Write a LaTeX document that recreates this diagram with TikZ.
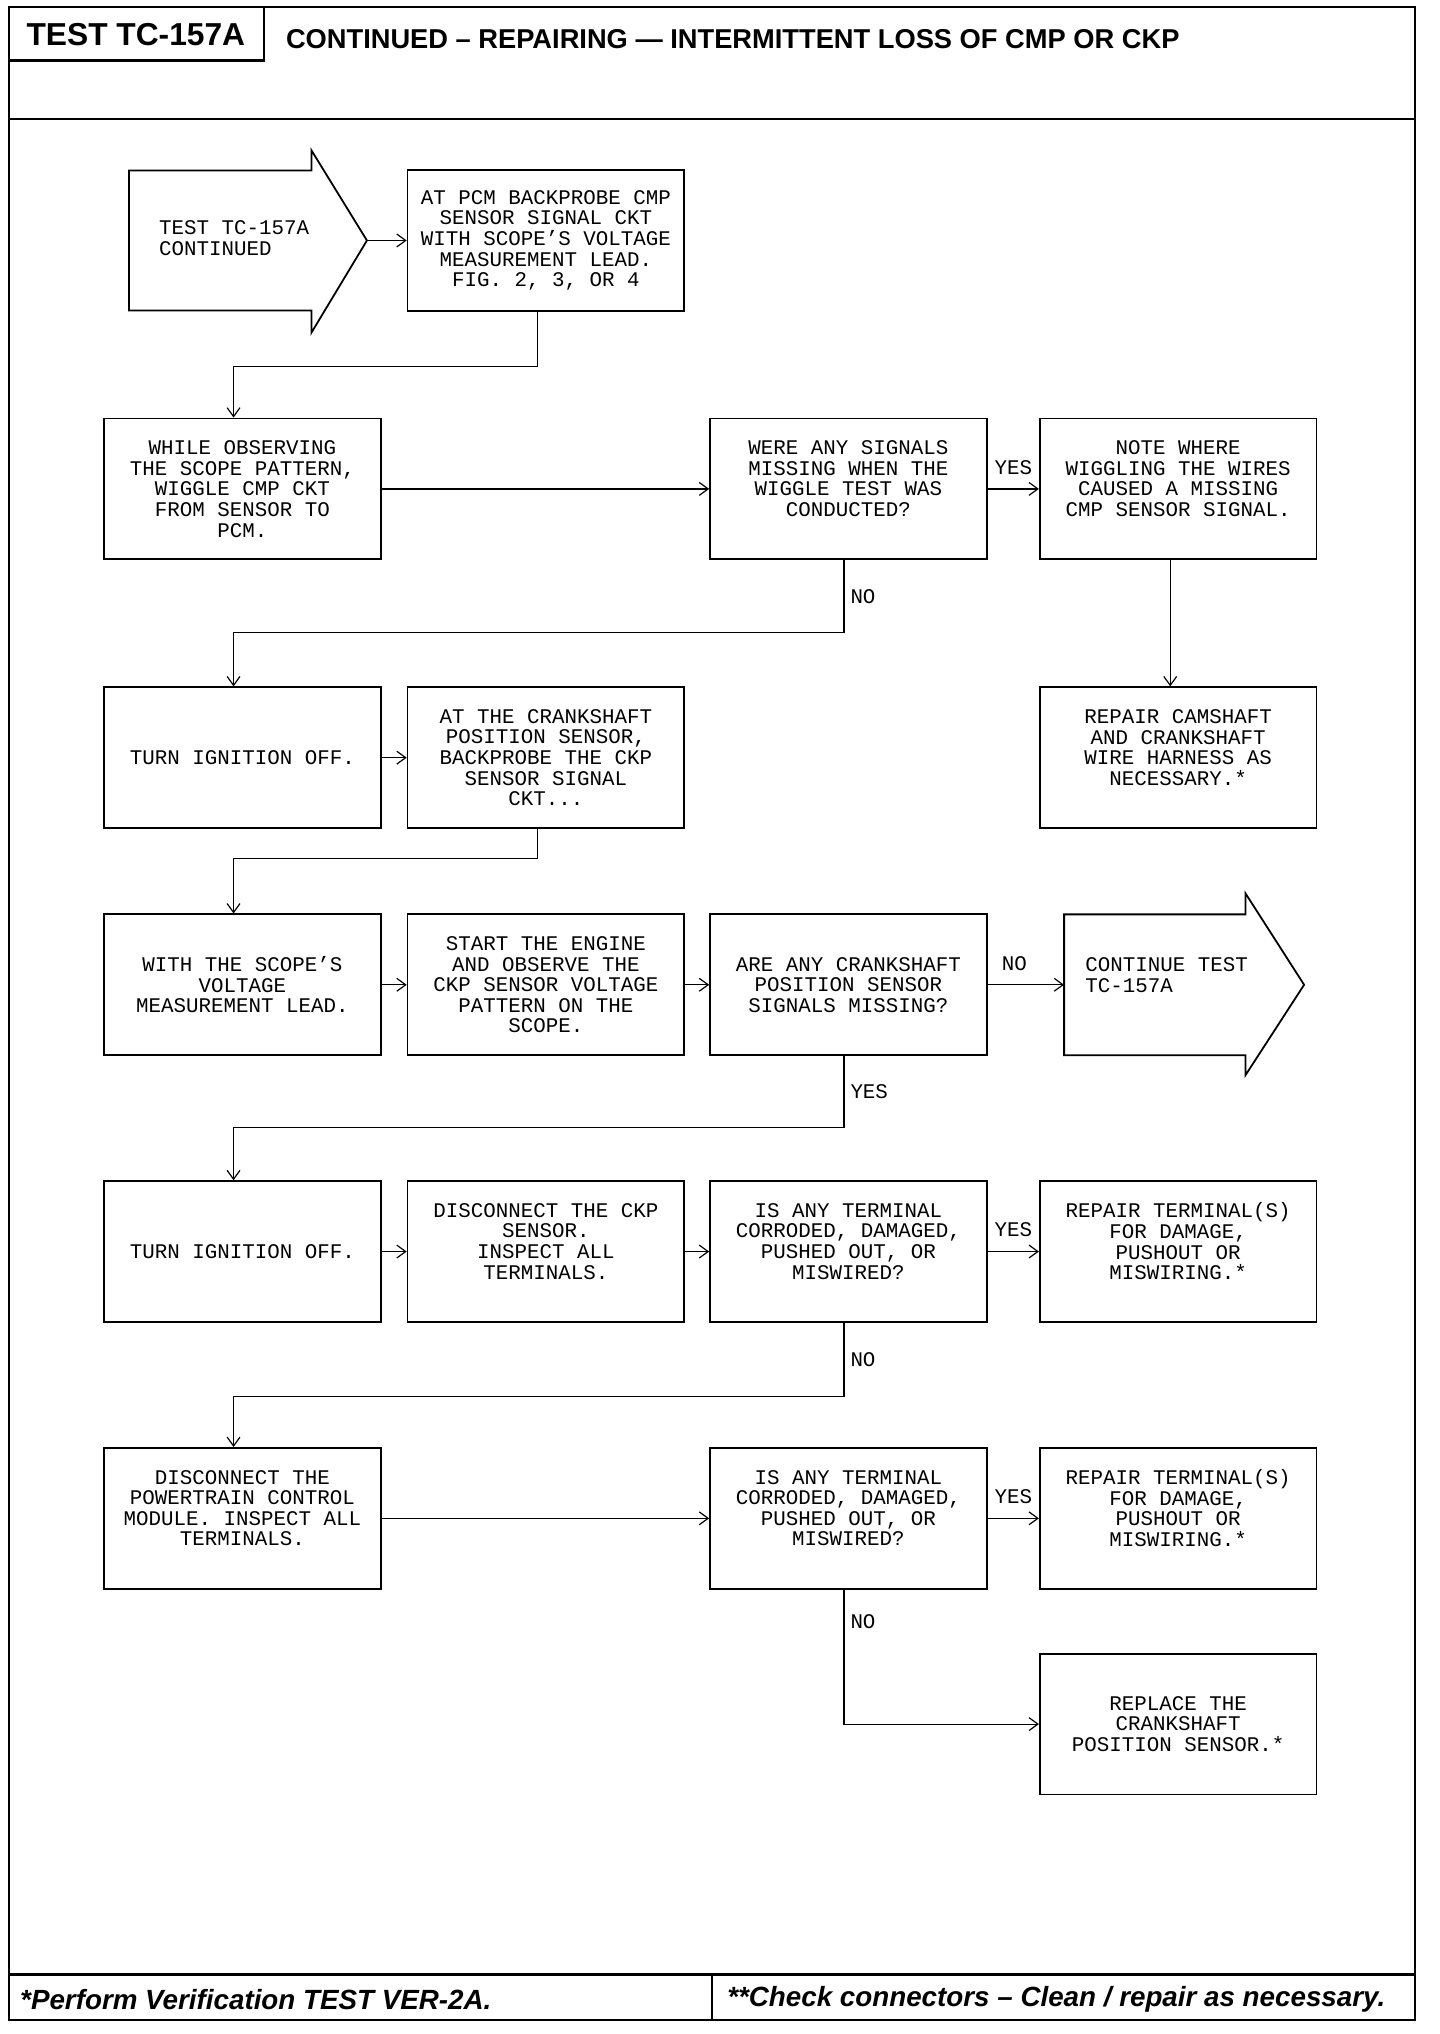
\documentclass[tikz,border=0pt]{standalone}
\usepackage{fontspec}
\setmainfont{Liberation Sans}
\setmonofont{Liberation Mono}
\usetikzlibrary{arrows.meta}
\tikzstyle{box} = [draw, line width=0.9pt, minimum width=139.5pt, minimum height=71pt, inner sep=0pt, align=center, font=\ttfamily\fontsize{10.5}{10.4}\selectfont]
\tikzstyle{txt} = [inner sep=0pt, align=left, font=\ttfamily\fontsize{10.5}{10.4}\selectfont]
\tikzstyle{tag} = [inner sep=2pt, font=\ttfamily\fontsize{10.5}{10.4}\selectfont]
\tikzstyle{line} = [->, line width=0.6pt]
\tikzstyle{rule} = [line width=1.2pt]

\begin{document}
\begin{tikzpicture}[x=0.5pt, y=-0.5pt, >={Straight Barb[length=4.5pt,width=6.5pt]}]
\useasboundingbox (0,0) rectangle (1452,2051);
% frame, header and footer
\draw[rule] (9,7) rectangle (1427,2037);
\draw[rule] (9,7) rectangle (266,61);
\draw[rule] (9,120) -- (1427,120);
\draw[rule] (9,1991) -- (1427,1991);
\draw[rule] (718,1991) -- (718,2037);
\node (title) at (137,35) {\fontsize{16}{16}\selectfont\bfseries TEST TC-157A};
\node[anchor=west, inner sep=0pt] (head) at (288,39) {\fontsize{13.75}{14}\selectfont\bfseries CONTINUED – REPAIRING — INTERMITTENT LOSS OF CMP OR CKP};
\node[anchor=west, inner sep=0pt] (note1) at (20,2016) {\fontsize{14}{14}\selectfont\bfseries\itshape *Perform Verification TEST VER-2A.};
\node[anchor=west, inner sep=0pt] (note2) at (733,2016) {\fontsize{14}{14}\selectfont\bfseries\itshape **Check connectors – Clean / repair as necessary.};

% start and end arrows
\coordinate (tip) at (370,242.5);
\draw[line width=0.9pt] (130,172) -- (314,172) -- (314,151.5) -- (tip) -- (314,335.5) -- (314,313) -- (130,313) -- cycle;
\node[txt, anchor=west] (start) at (160,240) {TEST TC-157A\\CONTINUED};
\coordinate (cin) at (1073,993);
\draw[line width=0.9pt] (cin) |- (1256,922) -- (1256,901) -- (1315,993) -- (1256,1084) -- (1256,1064) -| (cin);
\node[txt, anchor=west] (cont) at (1094,983) {CONTINUE TEST\\TC-157A};

% steps
\foreach \n/\x/\y/\t in {
    a2/550.5/242.5/{AT PCM BACKPROBE CMP\\SENSOR SIGNAL CKT\\WITH SCOPE’S VOLTAGE\\MEASUREMENT LEAD.\\FIG. 2, 3, OR 4},
    b1/244.5/493/{WHILE OBSERVING\\THE SCOPE PATTERN,\\WIGGLE CMP CKT\\FROM SENSOR TO\\PCM.},
    b3/855.5/493/{WERE ANY SIGNALS\\MISSING WHEN THE\\WIGGLE TEST WAS\\CONDUCTED?\\ \mbox{}},
    b4/1188/493/{NOTE WHERE\\WIGGLING THE WIRES\\CAUSED A MISSING\\CMP SENSOR SIGNAL.\\ \mbox{}},
    c1/244.5/764/{TURN IGNITION OFF.},
    c2/550.5/764/{AT THE CRANKSHAFT\\POSITION SENSOR,\\BACKPROBE THE CKP\\SENSOR SIGNAL\\CKT...},
    c4/1188/764/{REPAIR CAMSHAFT\\AND CRANKSHAFT\\WIRE HARNESS AS\\NECESSARY.*\\ \mbox{}},
    d1/244.5/993/{WITH THE SCOPE’S\\VOLTAGE\\MEASUREMENT LEAD.},
    d2/550.5/993/{START THE ENGINE\\AND OBSERVE THE\\CKP SENSOR VOLTAGE\\PATTERN ON THE\\SCOPE.},
    d3/855.5/993/{ARE ANY CRANKSHAFT\\POSITION SENSOR\\SIGNALS MISSING?},
    e1/244.5/1262/{TURN IGNITION OFF.},
    e2/550.5/1262/{DISCONNECT THE CKP\\SENSOR.\\INSPECT ALL\\TERMINALS.\\ \mbox{}},
    e3/855.5/1262/{IS ANY TERMINAL\\CORRODED, DAMAGED,\\PUSHED OUT, OR\\MISWIRED?\\ \mbox{}},
    e4/1188/1262/{REPAIR TERMINAL(S)\\FOR DAMAGE,\\PUSHOUT OR\\MISWIRING.*\\ \mbox{}},
    f1/244.5/1531/{DISCONNECT THE\\POWERTRAIN CONTROL\\MODULE. INSPECT ALL\\TERMINALS.\\ \mbox{}},
    f3/855.5/1531/{IS ANY TERMINAL\\CORRODED, DAMAGED,\\PUSHED OUT, OR\\MISWIRED?\\ \mbox{}},
    f4/1188/1531/{REPAIR TERMINAL(S)\\FOR DAMAGE,\\PUSHOUT OR\\MISWIRING.*\\ \mbox{}},
    g4/1188/1738.5/{REPLACE THE\\CRANKSHAFT\\POSITION SENSOR.*}}
    \node[box] (\n) at (\x,\y) {\t};

% connectors
\draw[line] (tip) -- (a2);
\draw[line] ([xshift=-4.25pt]a2.south) -- ++(0,55) -| ([xshift=-4.5pt]b1.north);
\draw[line] (b1) -- (b3);
\draw[line] (b3) -- node[tag, above=5pt] {YES} (b4);
\draw[line] ([xshift=-2.25pt]b3.south) -- node[tag, right=1pt] {NO} ++(0,73) -| ([xshift=-4.5pt]c1.north);
\draw[line] ([xshift=-4pt]b4.south) -- ([xshift=-4pt]c4.north);
\draw[line] (c1) -- (c2);
\draw[line] ([xshift=-4.25pt]c2.south) -- ++(0,30) -| ([xshift=-4.5pt]d1.north);
\draw[line] (d1) -- (d2);
\draw[line] (d2) -- (d3);
\draw[line] (d3) -- node[tag, above=5pt, pos=0.35] {NO} (cin);
\draw[line] ([xshift=-2.25pt]d3.south) -- node[tag, right=1pt] {YES} ++(0,72) -| ([xshift=-4.5pt]e1.north);
\draw[line] (e1) -- (e2);
\draw[line] (e2) -- (e3);
\draw[line] (e3) -- node[tag, above=5pt] {YES} (e4);
\draw[line] ([xshift=-2.25pt]e3.south) -- node[tag, right=1pt] {NO} ++(0,74) -| ([xshift=-4.5pt]f1.north);
\draw[line] (f1) -- (f3);
\draw[line] (f3) -- node[tag, above=5pt] {YES} (f4);
\draw[line] ([xshift=-2.25pt]f3.south) |- node[tag, right=1pt, pos=0.12] {NO} (g4.west);
\end{tikzpicture}
\end{document}
